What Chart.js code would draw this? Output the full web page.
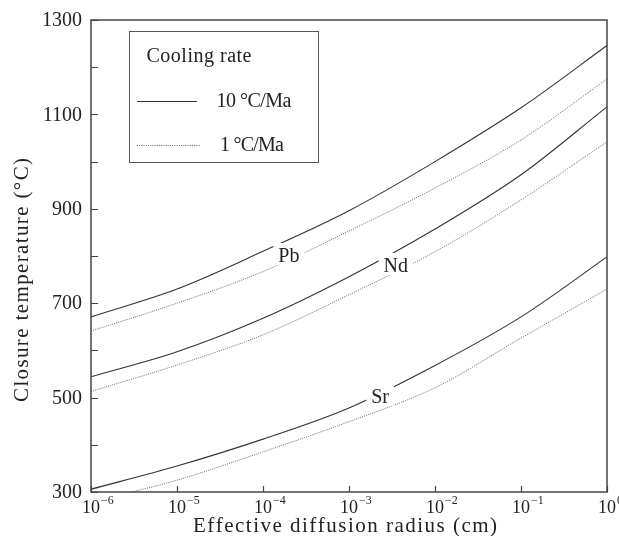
<!DOCTYPE html>
<html>
<head>
<meta charset="utf-8">
<script src="https://cdn.jsdelivr.net/npm/chart.js@4"></script>
<style>
  html, body { margin:0; padding:0; background:#fff; }
  #box { width:619px; height:536px; position:relative; }
</style>
</head>
<body>
<div id="box"><canvas id="grafico"></canvas></div>
<script>
// ===============================
// DADOS
// ===============================

const radius = [1e-6, 1e-5, 1e-4, 1e-3, 1e-2, 1e-1, 1];
const radiusSrSlow = [3e-6, 1e-5, 1e-4, 1e-3, 1e-2, 1e-1, 1];

// 10 °C/Ma (linha cheia)
const pbFast = [671, 730, 810, 896, 1000, 1114, 1246];
const ndFast = [544, 597, 668, 756, 857, 972, 1116];
const srFast = [306, 355, 412, 478, 568, 671, 798];

// 1 °C/Ma (pontilhada)
const pbSlow = [641, 700, 767, 853, 944, 1046, 1175];
const ndSlow = [513, 569, 633, 718, 809, 919, 1042];
const srSlow = [300, 325, 385, 449, 521, 626, 730];

const yTicks = [300, 500, 700, 900, 1100, 1300];
const xTickExp = [-6, -5, -4, -3, -2, -1, 0];

const curveLabels = [
  { text: "Pb", x: 2e-4, y: 800 },
  { text: "Nd", x: 3.5e-3, y: 779 },
  { text: "Sr", x: 2.3e-3, y: 502 }
];

// ===============================
// ESTILO
// ===============================

const SERIF = '"Liberation Serif", "Times New Roman", serif';
const INK = "#222";

function pares(xs, ys){
  return xs.map((x, i) => ({ x: x, y: ys[i] }));
}

function linhaCheia(xs, ys){
  return {
    data: pares(xs, ys),
    borderColor: "#333",
    borderWidth: 1.1,
    pointRadius: 0,
    cubicInterpolationMode: "monotone",
    fill: false
  };
}

function linhaPontilhada(xs, ys){
  return {
    data: pares(xs, ys),
    borderColor: "#666",
    borderWidth: 1,
    borderDash: [1, 1.2],
    pointRadius: 0,
    cubicInterpolationMode: "monotone",
    fill: false
  };
}

// texto com espaçamento ajustado a uma largura alvo
function textoEspacado(ctx, texto, cx, cy, largura){
  const chars = Array.from(texto);
  const ws = chars.map(c => ctx.measureText(c).width);
  const soma = ws.reduce((a, b) => a + b, 0);
  const gap = chars.length > 1 ? (largura - soma) / (chars.length - 1) : 0;
  let x = cx - largura / 2;
  ctx.textAlign = "left";
  chars.forEach((c, i) => {
    ctx.fillText(c, x, cy);
    x += ws[i] + gap;
  });
}

// ===============================
// PLUGIN DE DESENHO
// ===============================

const moldura = {
  id: "moldura",
  afterDatasetsDraw(chart){
    const ctx = chart.ctx;
    const a = chart.chartArea;
    const xs = chart.scales.x;
    const ys = chart.scales.y;

    ctx.save();

    // rótulos das curvas com fundo branco
    ctx.font = "20px " + SERIF;
    ctx.textBaseline = "middle";
    curveLabels.forEach(l => {
      const px = xs.getPixelForValue(l.x);
      const py = ys.getPixelForValue(l.y);
      const w = ctx.measureText(l.text).width;
      ctx.fillStyle = "#fff";
      ctx.fillRect(px - w / 2 - 5, py - 13, w + 10, 22);
      ctx.fillStyle = INK;
      ctx.textAlign = "center";
      ctx.fillText(l.text, px, py + 1);
    });

    // moldura
    ctx.strokeStyle = "#444";
    ctx.lineWidth = 1.5;
    ctx.strokeRect(a.left, a.top, a.right - a.left, a.bottom - a.top);

    // ticks internos do eixo y
    ctx.lineWidth = 1.2;
    ctx.beginPath();
    for(let v = 300; v <= 1300; v += 100){
      const py = Math.round(ys.getPixelForValue(v)) + 0.5;
      ctx.moveTo(a.left, py);
      ctx.lineTo(a.left + 7, py);
    }
    // ticks internos do eixo x
    xTickExp.forEach(e => {
      const px = Math.round(xs.getPixelForValue(Math.pow(10, e))) + 0.5;
      ctx.moveTo(px, a.bottom);
      ctx.lineTo(px, a.bottom - 6);
    });
    ctx.stroke();

    ctx.fillStyle = INK;
    ctx.textBaseline = "middle";

    // rótulos y
    ctx.font = "20px " + SERIF;
    ctx.textAlign = "right";
    yTicks.forEach(v => {
      const py = ys.getPixelForValue(v);
      ctx.fillText(String(v), a.left - 9, py + 1);
    });

    // rótulos x (10 com expoente)
    xTickExp.forEach(e => {
      const px = xs.getPixelForValue(Math.pow(10, e));
      ctx.font = "18px " + SERIF;
      ctx.textAlign = "center";
      const w = ctx.measureText("10").width;
      ctx.fillText("10", px, 508);
      ctx.font = "12px " + SERIF;
      ctx.textAlign = "left";
      const exp = e === 0 ? "0" : "\u2212" + Math.abs(e);
      ctx.fillText(exp, px + w / 2 + 1, 501);
    });

    // títulos dos eixos
    ctx.font = "21px " + SERIF;
    textoEspacado(ctx, "Effective diffusion radius (cm)", 345, 526, 304);

    ctx.save();
    ctx.translate(22, 280);
    ctx.rotate(-Math.PI / 2);
    textoEspacado(ctx, "Closure temperature (\u00B0C)", 0, 0, 244);
    ctx.restore();

    // legenda
    ctx.fillStyle = "#fff";
    ctx.fillRect(129, 31, 189, 131);
    ctx.strokeStyle = "#555";
    ctx.lineWidth = 1;
    ctx.strokeRect(129.5, 31.5, 189, 131);

    ctx.fillStyle = INK;
    ctx.font = "20px " + SERIF;
    textoEspacado(ctx, "Cooling rate", 147 + 52, 57, 105);
    textoEspacado(ctx, "10 \u00B0C/Ma", 217 + 37, 102, 75);
    textoEspacado(ctx, "1 \u00B0C/Ma", 220 + 32, 146, 64);

    ctx.strokeStyle = "#333";
    ctx.lineWidth = 1.1;
    ctx.beginPath();
    ctx.moveTo(137, 101.5);
    ctx.lineTo(197, 101.5);
    ctx.stroke();

    ctx.strokeStyle = "#666";
    ctx.lineWidth = 1;
    ctx.setLineDash([1, 1.2]);
    ctx.beginPath();
    ctx.moveTo(137, 145.5);
    ctx.lineTo(200, 145.5);
    ctx.stroke();

    ctx.restore();
  }
};

// ===============================
// GRÁFICO
// ===============================

const ctx = document.getElementById("grafico").getContext("2d");

const grafico = new Chart(ctx, {
  type: "line",
  data: {
    datasets: [
      linhaCheia(radius, pbFast),
      linhaPontilhada(radius, pbSlow),
      linhaCheia(radius, ndFast),
      linhaPontilhada(radius, ndSlow),
      linhaCheia(radius, srFast),
      linhaPontilhada(radiusSrSlow, srSlow)
    ]
  },
  options: {
    responsive: true,
    maintainAspectRatio: false,
    animation: false,
    layout: { padding: { top: 20, right: 12, left: 0, bottom: 0 } },
    plugins: {
      legend: { display: false },
      tooltip: { enabled: false }
    },
    scales: {
      x: {
        type: "logarithmic",
        min: 1e-6,
        max: 1,
        grid: { display: false },
        border: { display: false },
        ticks: { display: false },
        afterFit: s => { s.height = 44; }
      },
      y: {
        type: "linear",
        min: 300,
        max: 1300,
        grid: { display: false },
        border: { display: false },
        ticks: { display: false },
        afterFit: s => { s.width = 91; }
      }
    }
  },
  plugins: [moldura]
});
</script>
</body>
</html>
